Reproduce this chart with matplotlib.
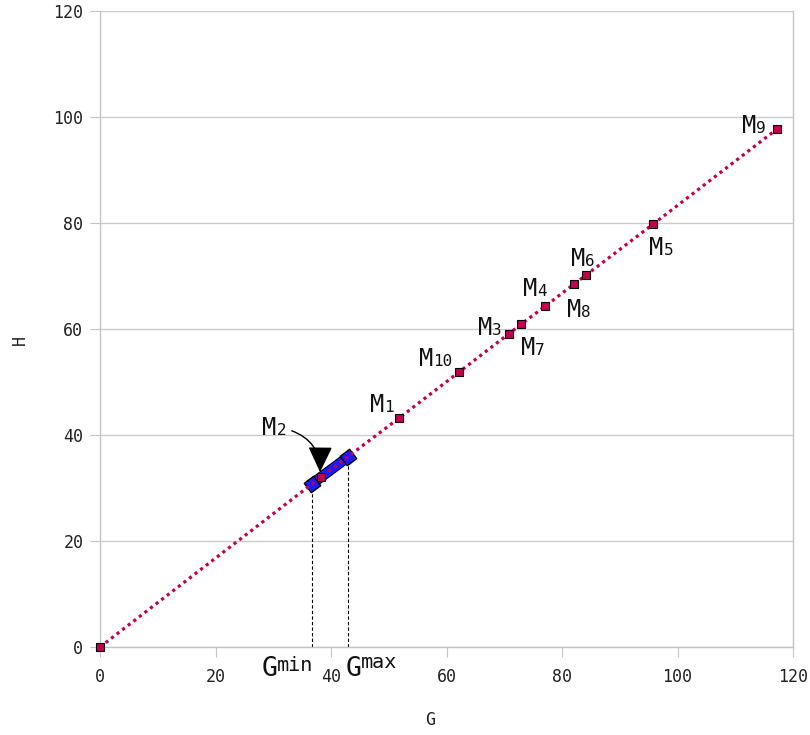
import matplotlib
matplotlib.use('Agg')
import matplotlib.pyplot as plt
import matplotlib.patheffects as pe

plt.rcParams['font.family'] = ['DejaVu Sans Mono', 'DejaVu Sans']

# points
names = ['1', '2', '3', '4', '5', '6', '7', '8', '9', '10']
G = [51.8, 38.3, 70.8, 77.1, 95.8, 84.2, 72.9, 82.1, 117.2, 62.2]
H = [43.2, 32.1, 59.1, 64.3, 79.8, 70.2, 60.9, 68.5, 97.7, 51.9]
g_origin, h_origin = 0.0, 0.0

g_min, h_min = 36.7, 30.8
g_max, h_max = 42.9, 35.8

ticks = [0, 20, 40, 60, 80, 100, 120]

# label offsets (pixels) of the left/baseline of the "M"
label_off = {
    '1': (-29, 6), '2': (-59, 42), '3': (-31, -1), '4': (-22, 10),
    '5': (-4, -31), '6': (-15, 9), '7': (0, -31), '8': (-7, -33),
    '9': (-35, -4), '10': (-40, 6),
}

crimson = '#c2004e'
blue = '#1a1aff'
grey = '#c4c4c4'

fig = plt.figure(figsize=(8.1, 7.35), dpi=100)
ax = fig.add_axes([100 / 810, 88 / 735, 693 / 810, 636 / 735])
ax.set_xlim(0, 120)
ax.set_ylim(0, 120)

ax.set_xticks(ticks)
ax.set_yticks(ticks)
ax.tick_params(axis='both', direction='out', length=7, color=grey, labelsize=12, labelcolor='#222222')
ax.tick_params(axis='x', pad=8)
ax.tick_params(axis='y', pad=5)
ax.yaxis.grid(True, color='#cccccc', lw=1)
for s in ax.spines.values():
    s.set_color(grey)
    s.set_linewidth(1)
ax.spines['top'].set_visible(False)

# guide lines down to the axis
ax.plot([g_min, g_min], [0, h_min], color='black', lw=0.8, ls=(0, (3, 2)), zorder=2)
ax.plot([g_max, g_max], [0, h_max], color='black', lw=0.8, ls=(0, (3, 2)), zorder=2)

# blue band between Gmin and Gmax
ax.plot([g_min, g_max], [h_min, h_max], color=blue, lw=6.2, solid_capstyle='butt', zorder=3,
        path_effects=[pe.Stroke(linewidth=7.6, foreground='black'), pe.Normal()])
ax.plot([g_min, g_max], [h_min, h_max], ls='none', marker=(4, 0, 82), ms=12,
        mfc=blue, mec='black', mew=1, zorder=3)

# dotted line through all points
order = sorted(range(len(G)), key=lambda i: G[i])
line_g = [g_origin] + [G[i] for i in order]
line_h = [h_origin] + [H[i] for i in order]
ax.plot(line_g, line_h, color=crimson, lw=2.3, ls=(0, (1, 1.2)), dash_capstyle='butt', zorder=4)
ax.plot(line_g, line_h, ls='none', marker='s', ms=6, mfc=crimson, mec='black', mew=0.8,
        zorder=5, clip_on=False)

m_size, d_size = 17, 11.5
m_adv = 0.602 * m_size * 100 / 72
for name, g, h in zip(names, G, H):
    dx, dy = label_off[name]
    ax.annotate('M', (g, h), xytext=(dx, dy), textcoords='offset pixels',
                ha='left', va='baseline', fontsize=m_size, color='#111111', zorder=6)
    ax.annotate(name, (g, h), xytext=(dx + m_adv, dy), textcoords='offset pixels',
                ha='left', va='baseline', fontsize=d_size, color='#111111', zorder=6)

# curved arrow from the M2 label
ax.annotate('', xy=(38.1, 33.0), xytext=(33.2, 40.8),
            arrowprops=dict(arrowstyle='-|>,head_length=0.8,head_width=0.38', mutation_scale=20,
                            connectionstyle='arc3,rad=-0.35', color='black', lw=1,
                            shrinkA=0, shrinkB=0), zorder=6)

# Gmin / Gmax texts under the axis
ax.annotate('G', (g_min, 0), xytext=(-50, -29), textcoords='offset pixels', ha='left',
            va='baseline', fontsize=19, color='#111111', annotation_clip=False)
ax.annotate('min', (g_min, 0), xytext=(-35, -24), textcoords='offset pixels', ha='left',
            va='baseline', fontsize=14.5, color='#111111', annotation_clip=False)
ax.annotate('G', (g_max, 0), xytext=(-2, -29), textcoords='offset pixels', ha='left',
            va='baseline', fontsize=19, color='#111111', annotation_clip=False)
ax.annotate('max', (g_max, 0), xytext=(13, -21), textcoords='offset pixels', ha='left',
            va='baseline', fontsize=14.5, color='#111111', annotation_clip=False)

ax.set_xlabel('G', fontsize=12, color='#222222')
ax.set_ylabel('H', fontsize=12, color='#222222')
ax.xaxis.set_label_coords(0.476, -0.115)
ax.yaxis.set_label_coords(-0.115, 0.483)
ax.xaxis.label.set_va('center')
ax.yaxis.label.set_va('center')

fig.savefig('out.png', dpi=100)
